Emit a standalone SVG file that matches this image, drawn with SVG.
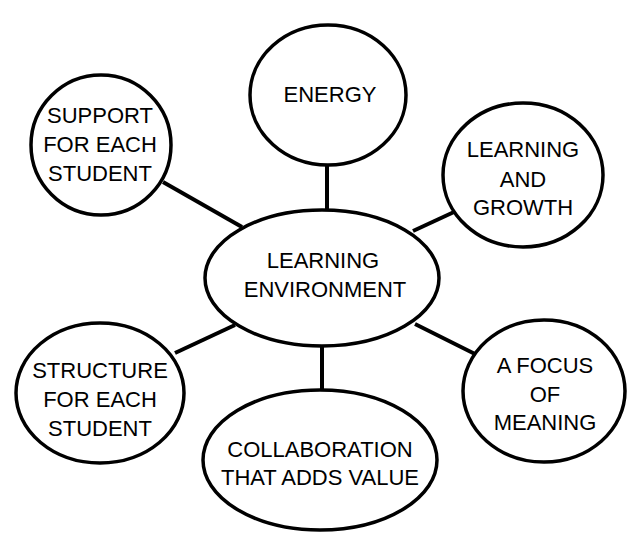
<svg xmlns="http://www.w3.org/2000/svg" width="643" height="554" viewBox="0 0 643 554">
<style>
.n{fill:#fff;stroke:#000;stroke-width:3.5}
.c{stroke:#000;stroke-width:4;fill:none}
text{font-family:"Liberation Sans",Arial,sans-serif;font-size:22px;fill:#000;text-anchor:middle}
</style>
<rect width="643" height="554" fill="#fff"/>
<g id="connectors">
<line class="c" x1="327" y1="165" x2="327" y2="212"/>
<line class="c" x1="163" y1="182" x2="242" y2="227"/>
<line class="c" x1="413" y1="231" x2="454" y2="212"/>
<line class="c" x1="175" y1="353" x2="235" y2="325"/>
<line class="c" x1="415" y1="324" x2="475" y2="354"/>
<line class="c" x1="322" y1="344" x2="322" y2="392"/>
</g>
<g id="center">
<ellipse class="n" cx="322" cy="278" rx="117" ry="68"/>
<text x="323" y="268">LEARNING</text>
<text x="325" y="297">ENVIRONMENT</text>
</g>
<g id="energy">
<ellipse class="n" cx="328" cy="95" rx="78" ry="70"/>
<text x="330" y="102">ENERGY</text>
</g>
<g id="support">
<ellipse class="n" cx="101" cy="145" rx="70" ry="70"/>
<text x="100" y="123">SUPPORT</text>
<text x="100" y="152">FOR EACH</text>
<text x="100" y="181">STUDENT</text>
</g>
<g id="growth">
<ellipse class="n" cx="523" cy="175" rx="80" ry="72"/>
<text x="523" y="157">LEARNING</text>
<text x="523" y="187">AND</text>
<text x="523" y="215">GROWTH</text>
</g>
<g id="structure">
<ellipse class="n" cx="100" cy="393" rx="84" ry="70"/>
<text x="100" y="378">STRUCTURE</text>
<text x="100" y="407">FOR EACH</text>
<text x="100" y="436">STUDENT</text>
</g>
<g id="collaboration">
<ellipse class="n" cx="320" cy="460" rx="117" ry="70"/>
<text x="320" y="457">COLLABORATION</text>
<text x="320" y="485">THAT ADDS VALUE</text>
</g>
<g id="focus">
<ellipse class="n" cx="544" cy="391" rx="81" ry="71"/>
<text x="545" y="373">A FOCUS</text>
<text x="545" y="402">OF</text>
<text x="545" y="430">MEANING</text>
</g>
</svg>
